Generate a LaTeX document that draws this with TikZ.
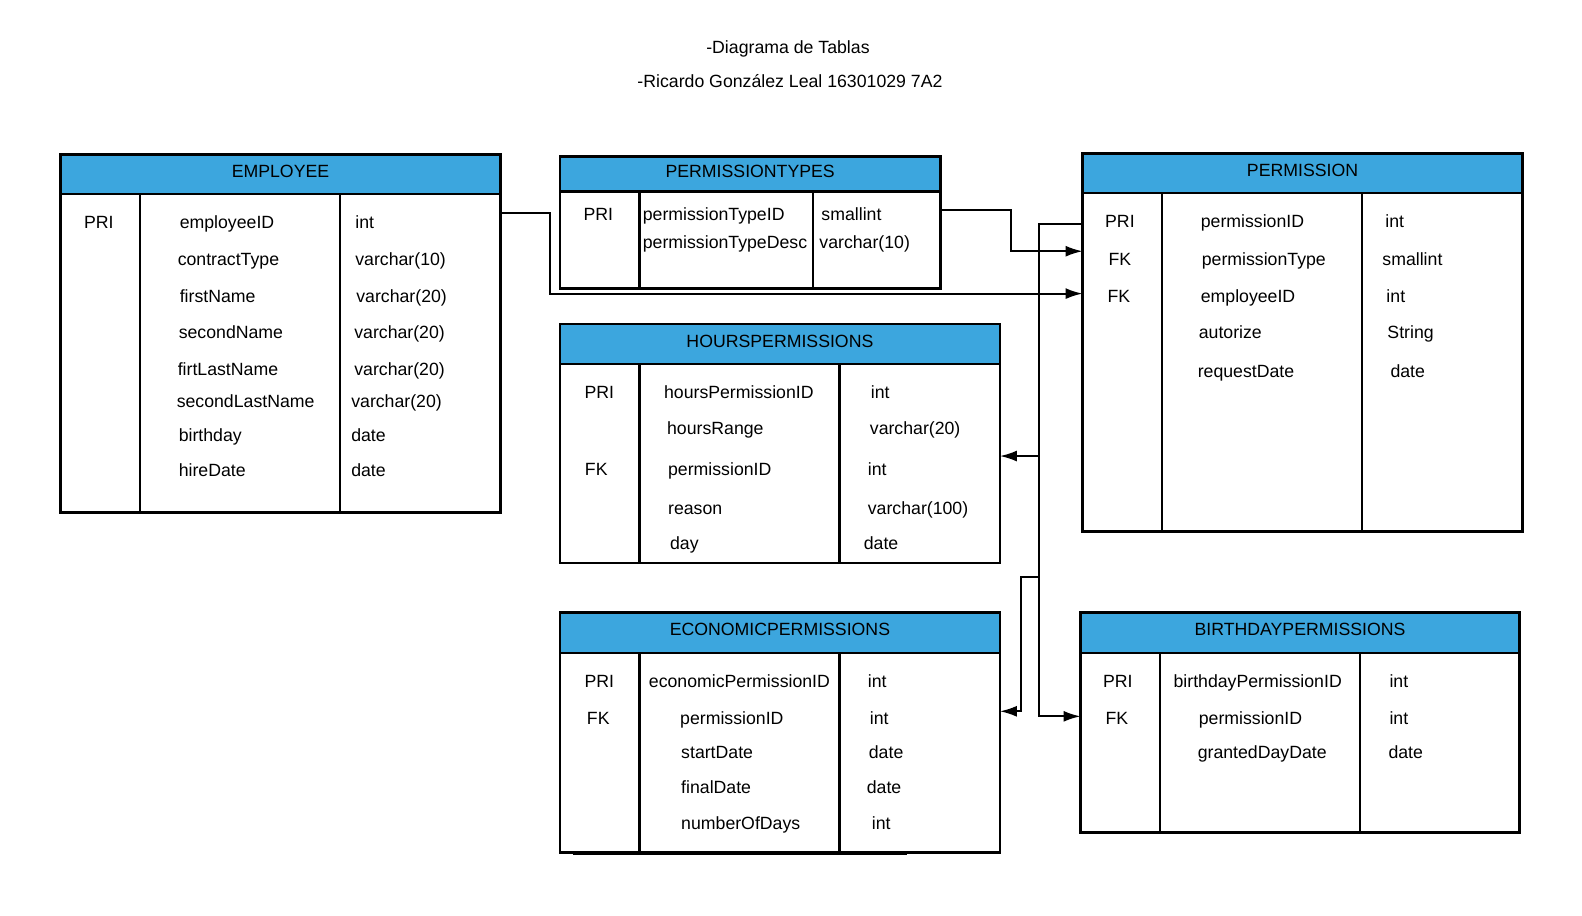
\documentclass[tikz,border=0pt]{standalone}
\usepackage{fontspec}
\setmainfont{Liberation Sans}
\usetikzlibrary{arrows.meta,calc}

\definecolor{hdrblue}{RGB}{60,166,222}

\tikzset{
  tbl/.style={draw, line width=2.4pt, inner sep=0pt, outer sep=0pt, anchor=north west},
  hdr/.style={tbl, fill=hdrblue, text height=12.6pt, text depth=6pt},
  fld/.style={anchor=base west, inner sep=0pt, yshift=1.2pt},
  key/.style={anchor=base, inner sep=0pt, yshift=1.2pt},
  grid/.style={line width=2.4pt},
  conn/.style={line width=2pt, -{Latex[length=17pt,width=11pt]}},
}

\begin{document}
\begin{tikzpicture}[x=1.0089pt, y=-1.0089pt, every node/.style={font=\fontsize{17.7}{21}\selectfont}]
\useasboundingbox (0,0) rectangle (1568,907);

% title
\node[key] (title1) at (781,54.5) {-Diagrama de Tablas};
\node[key] (title2) at (783,87.5) {-Ricardo González Leal 16301029 7A2};

% EMPLOYEE
\node[tbl, minimum width=439.9pt, minimum height=358.2pt] (employee) at (60,153) {};
\node[hdr, minimum width=439.9pt, minimum height=39.35pt] (employeeH) at (60,153) {EMPLOYEE};
\draw[grid] (139,192) -- (139,508);
\draw[grid] (337,192) -- (337,508);
\node[key] (empK1) at (98,228) {PRI};
\node[fld] (emp1) at (178,228) {employeeID};
\node[fld] (emp2) at (176,264) {contractType};
\node[fld] (emp3) at (178,301) {firstName};
\node[fld] (emp4) at (177,337) {secondName};
\node[fld] (emp5) at (176,373) {firtLastName};
\node[fld] (emp6) at (175,405) {secondLastName};
\node[fld] (emp7) at (177,439) {birthday};
\node[fld] (emp8) at (177,473) {hireDate};
\node[fld] (empT1) at (352,228) {int};
\node[fld] (empT2) at (352,264) {varchar(10)};
\node[fld] (empT3) at (353,301) {varchar(20)};
\node[fld] (empT4) at (351,337) {varchar(20)};
\node[fld] (empT5) at (351,373) {varchar(20)};
\node[fld] (empT6) at (348,405) {varchar(20)};
\node[fld] (empT7) at (348,439) {date};
\node[fld] (empT8) at (348,473) {date};

% PERMISSIONTYPES
\node[tbl, minimum width=380.4pt, minimum height=132.2pt] (ptypes) at (555,155) {};
\node[hdr, minimum width=380.4pt, minimum height=35.3pt] (ptypesH) at (555,155) {PERMISSIONTYPES};
\draw[grid] (634,190) -- (634,286);
\draw[grid] (806,190) -- (806,286);
\node[key] (ptK1) at (593,220) {PRI};
\node[fld] (pt1) at (637,220) {permissionTypeID};
\node[fld] (pt2) at (637,247) {permissionTypeDesc};
\node[fld] (ptT1) at (814,220) {smallint};
\node[fld] (ptT2) at (812,247) {varchar(10)};

% PERMISSION
\node[tbl, minimum width=439.9pt, minimum height=378.3pt] (permission) at (1073,152) {};
\node[hdr, minimum width=439.9pt, minimum height=39.35pt] (permissionH) at (1073,152) {PERMISSION};
\draw[grid] (1152,191) -- (1152,527);
\draw[grid] (1350,191) -- (1350,527);
\node[key] (pK1) at (1110,227) {PRI};
\node[key] (pK2) at (1110,264) {FK};
\node[key] (pK3) at (1109,301) {FK};
\node[fld] (p1) at (1190,227) {permissionID};
\node[fld] (p2) at (1191,264) {permissionType};
\node[fld] (p3) at (1190,301) {employeeID};
\node[fld] (p4) at (1188,337) {autorize};
\node[fld] (p5) at (1187,375) {requestDate};
\node[fld] (pT1) at (1373,227) {int};
\node[fld] (pT2) at (1370,264) {smallint};
\node[fld] (pT3) at (1374,301) {int};
\node[fld] (pT4) at (1375,337) {String};
\node[fld] (pT5) at (1378,375) {date};

% HOURSPERMISSIONS
\node[tbl, minimum width=439.9pt, minimum height=239.1pt] (hours) at (555,321) {};
\node[hdr, minimum width=439.9pt, minimum height=40.4pt] (hoursH) at (555,321) {HOURSPERMISSIONS};
\draw[grid] (634,361) -- (634,558);
\draw[grid] (832,361) -- (832,558);
\node[key] (hK1) at (594,396) {PRI};
\node[key] (hK2) at (591,472) {FK};
\node[fld] (h1) at (658,396) {hoursPermissionID};
\node[fld] (h2) at (661,432) {hoursRange};
\node[fld] (h3) at (662,472) {permissionID};
\node[fld] (h4) at (662,511) {reason};
\node[fld] (h5) at (664,546) {day};
\node[fld] (hT1) at (863,396) {int};
\node[fld] (hT2) at (862,432) {varchar(20)};
\node[fld] (hT3) at (860,472) {int};
\node[fld] (hT4) at (860,511) {varchar(100)};
\node[fld] (hT5) at (856,546) {date};

% ECONOMICPERMISSIONS
\node[tbl, minimum width=439.9pt, minimum height=240.1pt] (economic) at (555,607) {};
\node[hdr, minimum width=439.9pt, minimum height=40.4pt] (economicH) at (555,607) {ECONOMICPERMISSIONS};
\draw[grid] (634,647) -- (634,845);
\draw[grid] (832,647) -- (832,845);
\draw[line width=2pt] (568,846) -- (899,846);
\node[key] (ecK1) at (594,683) {PRI};
\node[key] (ecK2) at (593,719) {FK};
\node[fld] (ec1) at (643,683) {economicPermissionID};
\node[fld] (ec2) at (674,719) {permissionID};
\node[fld] (ec3) at (675,753) {startDate};
\node[fld] (ec4) at (675,788) {finalDate};
\node[fld] (ec5) at (675,823) {numberOfDays};
\node[fld] (ecT1) at (860,683) {int};
\node[fld] (ecT2) at (862,719) {int};
\node[fld] (ecT3) at (861,753) {date};
\node[fld] (ecT4) at (859,788) {date};
\node[fld] (ecT5) at (864,823) {int};

% BIRTHDAYPERMISSIONS
\node[tbl, minimum width=438.9pt, minimum height=219.9pt] (birthday) at (1071,607) {};
\node[hdr, minimum width=438.9pt, minimum height=40.4pt] (birthdayH) at (1071,607) {BIRTHDAYPERMISSIONS};
\draw[grid] (1150,647) -- (1150,825);
\draw[grid] (1348,647) -- (1348,825);
\node[key] (bK1) at (1108,683) {PRI};
\node[key] (bK2) at (1107,719) {FK};
\node[fld] (b1) at (1163,683) {birthdayPermissionID};
\node[fld] (b2) at (1188,719) {permissionID};
\node[fld] (b3) at (1187,753) {grantedDayDate};
\node[fld] (bT1) at (1377,683) {int};
\node[fld] (bT2) at (1377,719) {int};
\node[fld] (bT3) at (1376,753) {date};

% connectors
\draw[conn] ($(employee.north east)+(0,58)$) -- ++(49,0) |- ($(permission.north west)+(0,139)$);
\draw[conn] ($(ptypes.north east)+(0,53)$) -- ++(70,0) |- ($(permission.north west)+(0,97)$);
\draw[conn] ($(permission.north west)+(0,70)$) -- ++(-43,0) coordinate (bus) |- ($(birthday.north west)+(0,103)$);
\coordinate (hIn) at ($(hours.north east)+(0,131)$);
\draw[conn] (bus |- hIn) -- (hIn);
\draw[conn] ($(bus)+(0,350)$) -- ++(-18,0) |- ($(economic.north east)+(0,98)$);
\end{tikzpicture}
\end{document}
